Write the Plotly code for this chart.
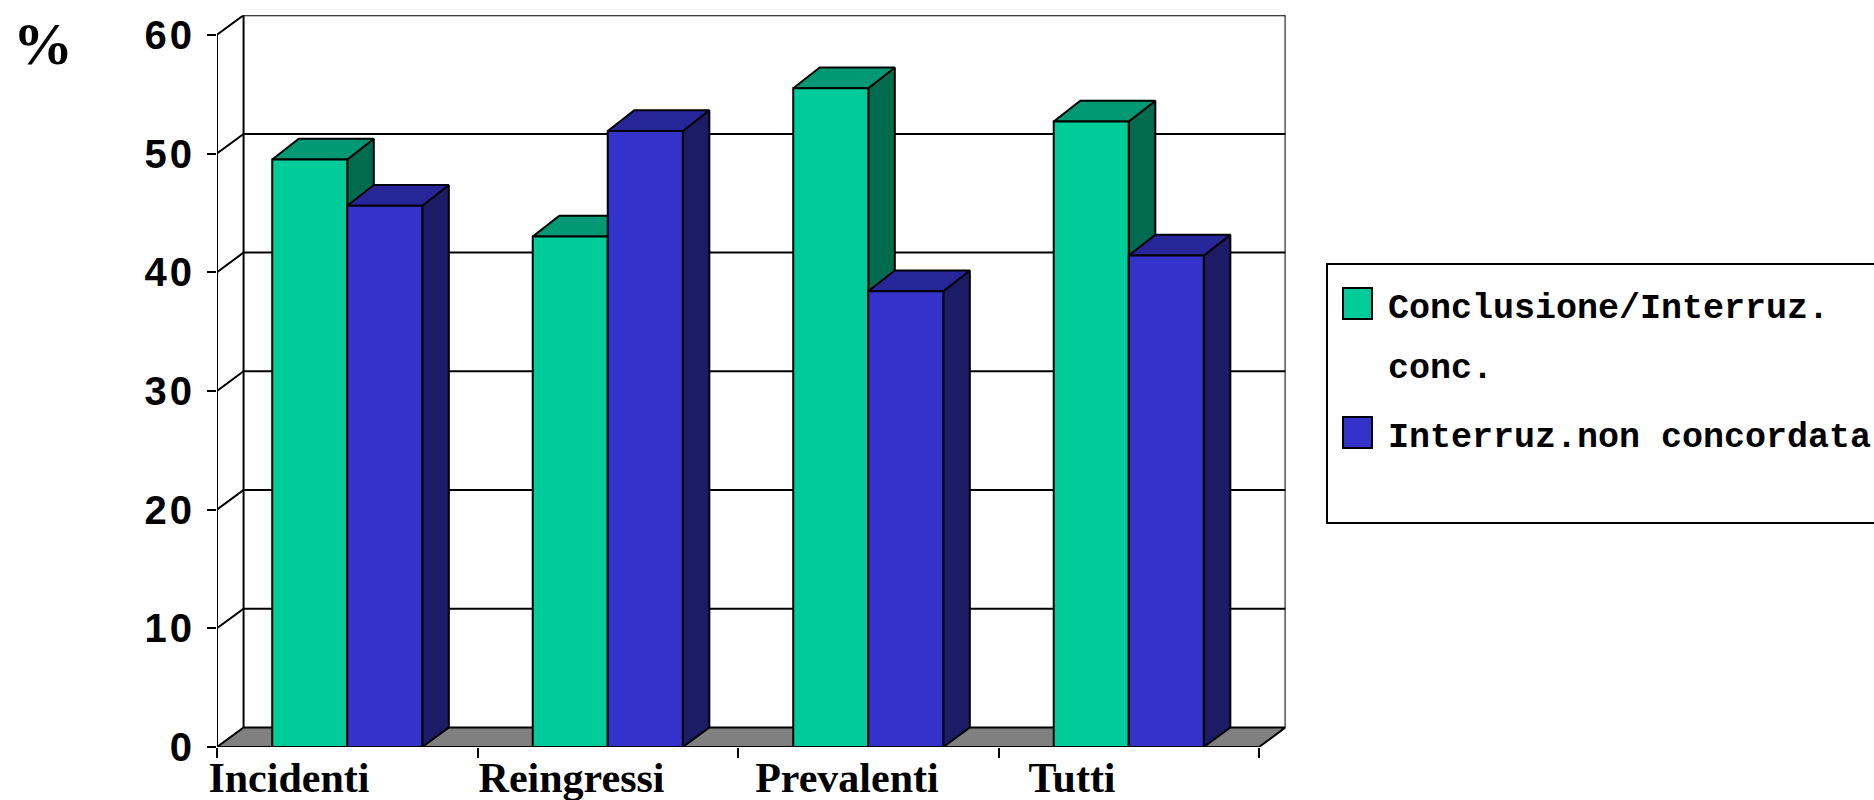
import plotly.graph_objects as go

# Percentage of patients by category and outcome
categories = ["Incidenti", "Reingressi", "Prevalenti", "Tutti"]
series_names = ["Conclusione/Interruz.<br>conc.", "Interruz.non concordata"]
conclusione = [49.5, 43.0, 55.5, 52.7]
interruzione = [45.6, 51.9, 38.4, 41.4]
y_ticks = [0, 10, 20, 30, 40, 50, 60]
category_ticks = [0, 1, 2, 3, 4]
label_centres = [0.276, 1.361, 2.418, 3.282]

# Face colours: front, top, side
GREEN = ("#00CC99", "#009973", "#006B4F")
BLUE = ("#3333CC", "#262699", "#1B1B66")
FLOOR = "#808080"
INK = "#000000"

# Oblique projection used for the fake depth, in axis units
DEPTH_X = 0.102
DEPTH_Y = 1.65
BAR_DEPTH_Y = 1.75
BAR_START = 0.212
BAR_WIDTH = 0.288
LINE = 2

W, H = 1874, 800
X_MAX = 4 + DEPTH_X
Y_MAX = 60 + DEPTH_Y


def px(x):
    return x / W


def py(y):
    return 1 - y / H


def polygon(fig, xs, ys, fill=None, width=LINE):
    fig.add_trace(go.Scatter(
        x=xs, y=ys, mode="lines", cliponaxis=False, hoverinfo="skip", showlegend=False,
        fill="toself" if fill else None, fillcolor=fill,
        line=dict(color=INK, width=width),
    ))


def spaced(text, gap):
    # Wide digit tracking on the axis numbers
    if len(text) < 2:
        return text
    return f'<span style="letter-spacing:{gap}px">{text[:-1]}</span>{text[-1]}'


def bar(fig, left, value, colours):
    right = left + BAR_WIDTH
    front, top, side = colours
    polygon(fig, [right, right + DEPTH_X, right + DEPTH_X, right, right],
            [0, DEPTH_Y, value + BAR_DEPTH_Y, value, 0], side)
    polygon(fig, [left, left + DEPTH_X, right + DEPTH_X, right, left],
            [value, value + BAR_DEPTH_Y, value + BAR_DEPTH_Y, value, value], top)
    polygon(fig, [left, right, right, left, left], [0, 0, value, value, 0], front)


fig = go.Figure()

# Back wall gridlines with their diagonals to the front axis
for tick in y_ticks[1:]:
    polygon(fig, [0, DEPTH_X, X_MAX], [tick, tick + DEPTH_Y, tick + DEPTH_Y])

# Wall edges and front value axis
polygon(fig, [DEPTH_X, DEPTH_X], [DEPTH_Y, Y_MAX])
polygon(fig, [X_MAX, X_MAX], [DEPTH_Y, Y_MAX])
polygon(fig, [0, 0], [0, 60])

# Floor
polygon(fig, [0, DEPTH_X, X_MAX, 4, 0], [0, DEPTH_Y, DEPTH_Y, 0, 0], FLOOR)

# Columns, left to right so each one overlaps its neighbour's side
for i, category in enumerate(categories):
    left = i + BAR_START
    bar(fig, left, conclusione[i], GREEN)
    bar(fig, left + BAR_WIDTH, interruzione[i], BLUE)

annotations = [dict(
    text="%", xref="paper", yref="paper", x=px(43), y=py(44), xanchor="center", yanchor="middle",
    showarrow=False, font=dict(family="Liberation Serif", size=60, color=INK, weight="bold"),
)]

# Legend box, running past the right edge of the page
shapes = [dict(
    type="rect", xref="paper", yref="paper",
    x0=px(1327), x1=px(1880), y0=py(523), y1=py(264),
    line=dict(color=INK, width=LINE), fillcolor="white", layer="above",
)]
swatch_rows = [(288, 319, GREEN[0]), (417, 448, BLUE[0])]
for y0, y1, colour in swatch_rows:
    shapes.append(dict(
        type="rect", xref="paper", yref="paper",
        x0=px(1343), x1=px(1372), y0=py(y1), y1=py(y0),
        line=dict(color=INK, width=LINE), fillcolor=colour, layer="above",
    ))

legend_lines = series_names[0].split("<br>") + [series_names[1]]
legend_baselines = [309, 369, 438]
for line, y in zip(legend_lines, legend_baselines):
    annotations.append(dict(
        text=line, xref="paper", yref="paper", x=px(1386), y=py(y), xanchor="left", yanchor="middle",
        showarrow=False, font=dict(family="Liberation Mono", size=35, color=INK, weight="bold"),
    ))

fig.update_layout(
    template="none",
    width=W, height=H, autosize=False,
    margin=dict(l=0, r=0, t=0, b=0, autoexpand=False),
    paper_bgcolor="white", plot_bgcolor="white",
    showlegend=False,
    xaxis=dict(
        automargin=False,
        domain=[px(217), px(217 + 260.5 * X_MAX)], range=[0, X_MAX],
        showgrid=False, zeroline=False, showline=False,
        tickmode="array", tickvals=label_centres, ticktext=categories,
        ticks="", ticklabelstandoff=2,
        tickfont=dict(family="Liberation Serif", size=42, color=INK, weight="bold"),
        minor=dict(tickmode="array", tickvals=category_ticks, ticks="outside",
                   ticklen=10, tickwidth=2, tickcolor=INK),
    ),
    yaxis=dict(
        automargin=False,
        domain=[py(747), py(747 - 11.87 * Y_MAX)], range=[0, Y_MAX],
        showgrid=False, zeroline=False, showline=False,
        tickmode="array", tickvals=y_ticks, ticktext=[spaced(str(v), 3) for v in y_ticks],
        ticks="outside", ticklen=9, tickwidth=2, tickcolor=INK, ticklabelstandoff=7,
        tickfont=dict(family="Liberation Sans", size=40, color=INK, weight="bold"),
    ),
    annotations=annotations,
    shapes=shapes,
)

fig.write_html("out.html", config=dict(displayModeBar=False))
